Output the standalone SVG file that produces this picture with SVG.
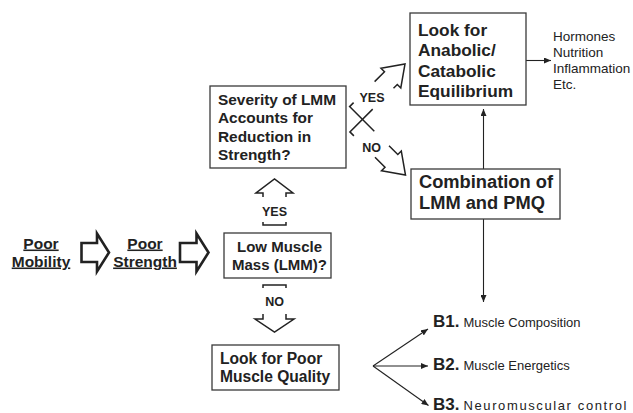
<svg xmlns="http://www.w3.org/2000/svg" width="633" height="413" viewBox="0 0 633 413">
<style>
.bg{fill:#fff}
.box{fill:#fff;stroke:#3a3a3a;stroke-width:1.3}
.b{font-family:"Liberation Sans",Arial,sans-serif;font-weight:bold;fill:#222}
.r{font-family:"Liberation Sans",Arial,sans-serif;fill:#222}
.blk{fill:#fff;stroke:#222;stroke-width:2.6;stroke-linejoin:miter}
.ol{fill:none;stroke:#222;stroke-width:1.5;stroke-linejoin:miter;stroke-linecap:butt}
.ln{fill:none;stroke:#222;stroke-width:1.1}
</style>
<defs>
<marker id="ah" markerUnits="userSpaceOnUse" markerWidth="8" markerHeight="6" refX="7" refY="3" orient="auto">
<path d="M0,0 L7,3 L0,6 Z" fill="#222"/>
</marker>
</defs>
<rect class="bg" x="0" y="0" width="633" height="413"/>

<g id="connectors">
<!-- horizontal block arrows -->
<path class="blk" d="M81.5,243 H97 V233.5 L109,252.5 L97,271.5 V262 H81.5 Z"/>
<path class="blk" d="M180,243 H196.5 V233.5 L208.5,252.5 L196.5,271.5 V262 H180 Z"/>
<!-- up YES block arrow -->
<path class="ol" d="M263,197 V193 H256 L274.5,179 L293,193 H286 V197"/>
<path class="ol" d="M263,222 V225 H286 V222"/>
<text class="b" x="274.5" y="216" font-size="12.5" text-anchor="middle">YES</text>
<!-- down NO block arrow -->
<path class="ol" d="M263,288 V285 H286 V288"/>
<text class="b" x="274.5" y="306" font-size="12.5" text-anchor="middle">NO</text>
<path class="ol" d="M263,314 V319 H255 L274.5,332 L294,319 H286 V314"/>
<!-- diagonal YES arrow -->
<path class="ol" d="M353.6,102.6 L349.6,106.6 L374.3,131.3"/>
<path class="ol" d="M372.7,109.1 L349.9,131.9 L353.9,135.9"/>
<path class="ol" d="M374.6,81.6 L384.5,71.7 L381,68.2 L405,64 L400.8,88 L397.3,84.5 L393.5,88.3"/>
<text class="b" x="372" y="102" font-size="12.5" text-anchor="middle">YES</text>
<!-- diagonal NO arrow -->
<path class="ol" d="M389,145.7 L397.8,154.5 L401.3,151 L405.5,175 L381.5,170.8 L385,167.3 L375,157.3"/>
<text class="b" x="371.5" y="151.5" font-size="12.5" text-anchor="middle">NO</text>
<!-- thin connectors -->
<line class="ln" x1="483.5" y1="169" x2="483.5" y2="109" marker-end="url(#ah)"/>
<line class="ln" x1="483.5" y1="219" x2="483.5" y2="302" marker-end="url(#ah)"/>
<line class="ln" x1="526" y1="60.5" x2="551" y2="60.5" marker-end="url(#ah)"/>
<line class="ln" x1="373" y1="366" x2="428" y2="329" marker-end="url(#ah)"/>
<line class="ln" x1="373" y1="366" x2="428" y2="366" marker-end="url(#ah)"/>
<line class="ln" x1="373" y1="366" x2="428.5" y2="405.5" marker-end="url(#ah)"/>
</g>

<g id="poor-mobility">
<text class="b" font-size="15.5" text-anchor="middle" text-decoration="underline"><tspan x="41" y="248.5">Poor</tspan><tspan x="41" y="266.5">Mobility</tspan></text>
</g>
<g id="poor-strength">
<text class="b" font-size="15.5" text-anchor="middle" text-decoration="underline"><tspan x="145" y="248.5">Poor</tspan><tspan x="145" y="266.5">Strength</tspan></text>
</g>
<g id="low-muscle-mass">
<rect class="box" x="224" y="233" width="107" height="45"/>
<text class="b" font-size="15" text-anchor="middle"><tspan x="279.5" y="252">Low Muscle</tspan><tspan x="279.5" y="270">Mass (LMM)?</tspan></text>
</g>
<g id="severity">
<rect class="box" x="210" y="86" width="136" height="82"/>
<text class="b" font-size="15.4"><tspan x="218" y="104.5">Severity of LMM</tspan><tspan x="218" y="123">Accounts for</tspan><tspan x="218" y="141.5">Reduction in</tspan><tspan x="218" y="160">Strength?</tspan></text>
</g>
<g id="poor-quality">
<rect class="box" x="212" y="345" width="127" height="45"/>
<text class="b" font-size="15.6"><tspan x="220" y="363.5">Look for Poor</tspan><tspan x="220" y="382">Muscle Quality</tspan></text>
</g>
<g id="anabolic">
<rect class="box" x="410" y="13" width="116" height="92"/>
<text class="b" font-size="17.3"><tspan x="418" y="35.5">Look for</tspan><tspan x="418" y="56">Anabolic/</tspan><tspan x="418" y="76.5">Catabolic</tspan><tspan x="418" y="97">Equilibrium</tspan></text>
</g>
<g id="combination">
<rect class="box" x="411" y="169" width="149" height="50"/>
<text class="b" font-size="18.3"><tspan x="419" y="187.5">Combination of</tspan><tspan x="419" y="209">LMM and PMQ</tspan></text>
</g>
<g id="factors">
<text class="r" font-size="13.5"><tspan x="553" y="40.5">Hormones</tspan><tspan x="553" y="56.5">Nutrition</tspan><tspan x="553" y="72.5">Inflammation</tspan><tspan x="553" y="88.5">Etc.</tspan></text>
</g>
<g id="b1">
<text x="433" y="327"><tspan class="b" font-size="17">B1.</tspan><tspan class="r" font-size="13" dx="4">Muscle Composition</tspan></text>
</g>
<g id="b2">
<text x="433" y="369.5"><tspan class="b" font-size="17">B2.</tspan><tspan class="r" font-size="13" dx="4">Muscle Energetics</tspan></text>
</g>
<g id="b3">
<text x="433" y="410"><tspan class="b" font-size="17">B3.</tspan><tspan class="r" font-size="13" dx="4" textLength="163" lengthAdjust="spacing">Neuromuscular control</tspan></text>
</g>
</svg>
